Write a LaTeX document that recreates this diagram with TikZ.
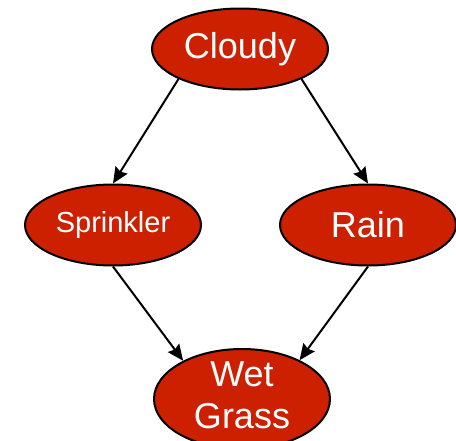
\documentclass[tikz,border=0pt]{standalone}
\usepackage{fontspec}
\setmainfont{Liberation Sans}
\usetikzlibrary{shapes.geometric,arrows.meta}
\definecolor{bnred}{RGB}{204,32,0}
\tikzset{
  bn/.style={ellipse, draw=black, line width=2pt, fill=bnred, text=white,
    minimum width=176pt, minimum height=81pt, inner sep=0pt},
  bigtxt/.style={font=\fontsize{36}{42}\selectfont},
  smalltxt/.style={font=\fontsize{29}{35}\selectfont},
  edge/.style={line width=2pt, draw=black,
    -{Stealth[length=16pt,width=14pt,inset=2pt]}}
}
\begin{document}
\begin{tikzpicture}[x=1pt,y=-1pt]
\useasboundingbox (0,0) rectangle (456,440);
\clip (0,0) rectangle (456,440);
\node[bn,bigtxt] (cloudy) at (240,49) {Cloudy};
\node[bn,smalltxt] (sprinkler) at (113,225) {Sprinkler};
\node[bn,bigtxt] (rain) at (368,225) {Rain};
\node[bn,minimum height=100pt] (wet) at (242,399) {};
\node[bigtxt,text=white,align=center,inner sep=0pt] (wettext) at (242,395) {Wet\\Grass};
\draw[edge] (cloudy.206) -- (sprinkler.north);
\draw[edge] (cloudy.334) -- (rain.north);
\draw[edge] (sprinkler.south) -- (wet.147);
\draw[edge] (rain.south) -- (wet.34);
\end{tikzpicture}
\end{document}
